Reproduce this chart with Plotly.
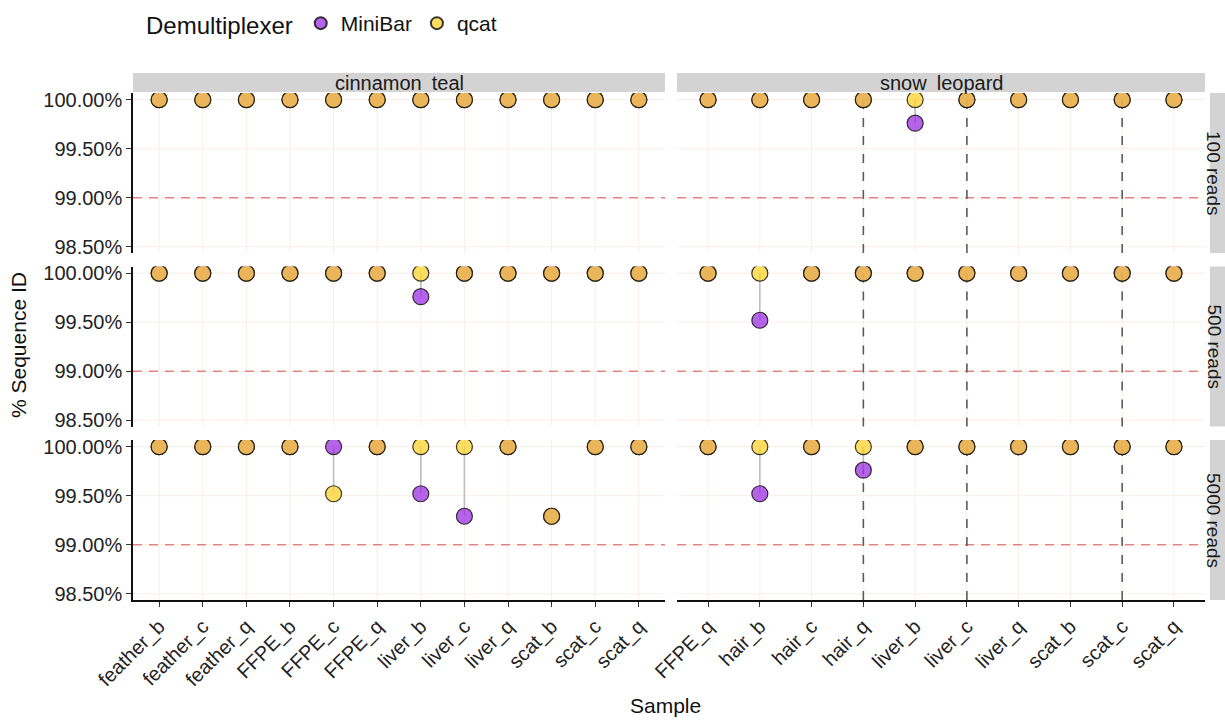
import plotly.graph_objects as go

# Samples per species facet (column order)
species = ["cinnamon_teal", "snow_leopard"]
species_labels = ["cinnamon\u2002teal", "snow\u2002leopard"]
samples = {
    "cinnamon_teal": ["feather_b", "feather_c", "feather_q", "FFPE_b", "FFPE_c", "FFPE_q",
                      "liver_b", "liver_c", "liver_q", "scat_b", "scat_c", "scat_q"],
    "snow_leopard": ["FFPE_q", "hair_b", "hair_c", "hair_q", "liver_b", "liver_c",
                     "liver_q", "scat_b", "scat_c", "scat_q"],
}

# Read-depth facets (row order)
read_levels = ["100 reads", "500 reads", "5000 reads"]

# % sequence identity per demultiplexer, per species, per read depth
minibar = {
    ("cinnamon_teal", "100 reads"): [100, 100, 100, 100, 100, 100, 100, 100, 100, 100, 100, 100],
    ("cinnamon_teal", "500 reads"): [100, 100, 100, 100, 100, 100, 99.76, 100, 100, 100, 100, 100],
    ("cinnamon_teal", "5000 reads"): [100, 100, 100, 100, 100, 100, 99.52, 99.29, 100, 99.29, 100, 100],
    ("snow_leopard", "100 reads"): [100, 100, 100, 100, 99.76, 100, 100, 100, 100, 100],
    ("snow_leopard", "500 reads"): [100, 99.52, 100, 100, 100, 100, 100, 100, 100, 100],
    ("snow_leopard", "5000 reads"): [100, 99.52, 100, 99.76, 100, 100, 100, 100, 100, 100],
}
qcat = {
    ("cinnamon_teal", "100 reads"): [100, 100, 100, 100, 100, 100, 100, 100, 100, 100, 100, 100],
    ("cinnamon_teal", "500 reads"): [100, 100, 100, 100, 100, 100, 100, 100, 100, 100, 100, 100],
    ("cinnamon_teal", "5000 reads"): [100, 100, 100, 100, 99.52, 100, 100, 100, 100, 99.29, 100, 100],
    ("snow_leopard", "100 reads"): [100, 100, 100, 100, 100, 100, 100, 100, 100, 100],
    ("snow_leopard", "500 reads"): [100, 100, 100, 100, 100, 100, 100, 100, 100, 100],
    ("snow_leopard", "5000 reads"): [100, 100, 100, 100, 100, 100, 100, 100, 100, 100],
}

# Reference lines
threshold = 99.0
marked_samples = {"snow_leopard": ["hair_q", "liver_c", "scat_c"]}

y_ticks = [98.5, 99.0, 99.5, 100.0]
y_tick_labels = ["98.50%", "99.00%", "99.50%", "100.00%"]
y_range = [98.436, 100.068]

# Styling
FONT = "Liberation Sans, Arial, sans-serif"
PURPLE = "rgba(155,45,228,0.74)"
YELLOW = "rgba(252,210,40,0.74)"
OUTLINE = "rgba(25,20,15,0.85)"
GRID = "#FBEDE8"
W, H = 1225, 721
ML, MR, MT, MB = 133, 20, 93, 121
plot_w = W - ML - MR
plot_h = H - MT - MB

col_domains = [[0.0, (665 - ML) / plot_w], [(677 - ML) / plot_w, 1.0]]
panel_h = 160 / plot_h
gap = (plot_h - 3 * 160) / 2 / plot_h
row_domains = [
    [1 - panel_h, 1.0],
    [1 - 2 * panel_h - gap, 1 - panel_h - gap],
    [0.0, panel_h],
]

fig = go.Figure()
layout = {}

for r, level in enumerate(read_levels):
    for c, sp in enumerate(species):
        idx = r * 2 + c + 1
        xa = "x" if idx == 1 else f"x{idx}"
        ya = "y" if idx == 1 else f"y{idx}"
        cats = samples[sp]
        mb = minibar[(sp, level)]
        qc = qcat[(sp, level)]

        # light panel grid (drawn as shapes so reference lines sit on top of it)
        for s in cats:
            fig.add_shape(type="line", xref=xa, yref=f"{ya} domain", x0=s, x1=s, y0=0, y1=1,
                          layer="below", line=dict(color=GRID, width=1))
        for t in y_ticks:
            fig.add_shape(type="line", xref=f"{xa} domain", yref=ya, x0=0, x1=1, y0=t, y1=t,
                          layer="below", line=dict(color=GRID, width=1))

        # 99% threshold line
        fig.add_shape(type="line", xref=f"{xa} domain", yref=ya, x0=0, x1=1,
                      y0=threshold, y1=threshold, layer="below",
                      line=dict(color="#E8837B", width=1.6, dash="9px,7px"))
        # highlighted samples
        for s in marked_samples.get(sp, []):
            fig.add_shape(type="line", xref=xa, yref=f"{ya} domain", x0=s, x1=s,
                          y0=0, y1=1, layer="below",
                          line=dict(color="#5c5c5c", width=1.6, dash="9px,9px"))

        # connector segments between the two demultiplexers
        seg_x, seg_y = [], []
        for s, a, b in zip(cats, mb, qc):
            if a != b:
                seg_x += [s, s, None]
                seg_y += [a, b, None]
        if seg_x:
            fig.add_trace(go.Scatter(
                x=seg_x, y=seg_y, mode="lines", xaxis=xa, yaxis=ya,
                line=dict(color="#BDBDBD", width=1.6), showlegend=False, hoverinfo="skip"))

        fig.add_trace(go.Scatter(
            x=cats, y=mb, mode="markers", xaxis=xa, yaxis=ya, name="MiniBar",
            legendgroup="MiniBar", showlegend=(idx == 1),
            marker=dict(size=16, color=PURPLE, line=dict(color=OUTLINE, width=1.2))))
        fig.add_trace(go.Scatter(
            x=cats, y=qc, mode="markers", xaxis=xa, yaxis=ya, name="qcat",
            legendgroup="qcat", showlegend=(idx == 1),
            marker=dict(size=16, color=YELLOW, line=dict(color=OUTLINE, width=1.2))))

        bottom = (r == 2)
        left = (c == 0)
        layout["xaxis" if idx == 1 else f"xaxis{idx}"] = dict(
            domain=col_domains[c], anchor=ya, type="category",
            categoryorder="array", categoryarray=cats,
            range=[-0.6, len(cats) - 0.4],
            showgrid=False, zeroline=False,
            showline=bottom, linecolor="#111111", linewidth=1.5,
            ticks="outside" if bottom else "", ticklen=5, tickwidth=1.3, tickcolor="#333333",
            showticklabels=bottom, tickangle=-45,
            tickfont=dict(family=FONT, size=20, color="#222222"),
            fixedrange=True,
        )
        layout["yaxis" if idx == 1 else f"yaxis{idx}"] = dict(
            domain=row_domains[r], anchor=xa, range=y_range,
            tickmode="array", tickvals=y_ticks, ticktext=y_tick_labels,
            showgrid=False, zeroline=False,
            showline=left, linecolor="#111111", linewidth=1.5,
            ticks="outside" if left else "", ticklen=5, tickwidth=1.3, tickcolor="#333333",
            showticklabels=left,
            tickfont=dict(family=FONT, size=20, color="#222222"),
            fixedrange=True,
        )

fig.update_layout(**layout)

# facet strips: species across the top
strip_y0 = (MT + plot_h - 92) / plot_h
strip_y1 = (MT + plot_h - 73) / plot_h
for c, lab in enumerate(species_labels):
    d = col_domains[c]
    fig.add_shape(type="rect", xref="paper", yref="paper", x0=d[0], x1=d[1],
                  y0=strip_y0, y1=strip_y1, fillcolor="#D3D3D3", line=dict(width=0), layer="below")
    fig.add_annotation(xref="paper", yref="paper", x=(d[0] + d[1]) / 2,
                       y=(MT + plot_h - 83) / plot_h, text=lab, showarrow=False,
                       yanchor="middle", xanchor="center",
                       font=dict(family=FONT, size=20, color="#1a1a1a"))

# facet strips: read depth on the right
sx0 = (1210 - ML) / plot_w
sx1 = (1245 - ML) / plot_w
for r, lab in enumerate(read_levels):
    d = row_domains[r]
    fig.add_shape(type="rect", xref="paper", yref="paper", x0=sx0, x1=sx1,
                  y0=d[0], y1=d[1], fillcolor="#D3D3D3", line=dict(width=0), layer="below")
    fig.add_annotation(xref="paper", yref="paper", x=(1214 - ML) / plot_w,
                       y=(d[0] + d[1]) / 2, text=lab, showarrow=False, textangle=90,
                       xanchor="center", yanchor="middle",
                       font=dict(family=FONT, size=19, color="#1a1a1a"))

# axis titles
fig.add_annotation(xref="paper", yref="paper", x=(18 - ML) / plot_w,
                   y=(MT + plot_h - 345) / plot_h, text="% Sequence ID", showarrow=False,
                   textangle=-90, xanchor="center", yanchor="middle",
                   font=dict(family=FONT, size=21, color="#111111"))
fig.add_annotation(xref="paper", yref="paper", x=(665 - ML) / plot_w,
                   y=(MT + plot_h - 705) / plot_h, text="Sample", showarrow=False,
                   xanchor="center", yanchor="middle",
                   font=dict(family=FONT, size=21, color="#111111"))

fig.update_layout(
    width=W, height=H,
    margin=dict(l=ML, r=MR, t=MT, b=MB, autoexpand=False),
    paper_bgcolor="white", plot_bgcolor="white",
    showlegend=True,
    legend=dict(
        orientation="h", x=(144 - ML) / plot_w, y=(MT + plot_h - 24) / plot_h,
        xanchor="left", yanchor="middle",
        title=dict(text="Demultiplexer", font=dict(family=FONT, size=24, color="#111111")),
        font=dict(family=FONT, size=21, color="#111111"),
        itemsizing="constant", itemwidth=30,
        bgcolor="rgba(0,0,0,0)",
    ),
    font=dict(family=FONT),
)

fig.write_html("out.html")
